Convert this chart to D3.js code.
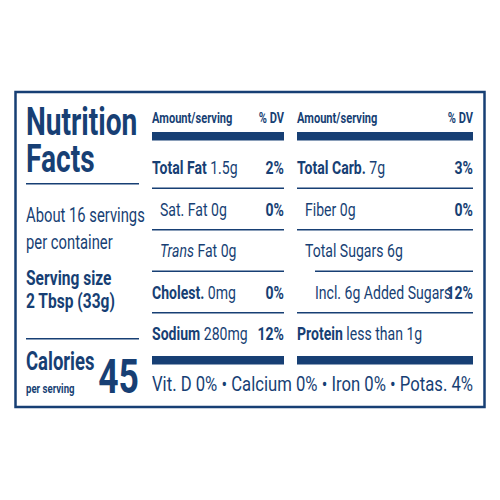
<!DOCTYPE html>
<html><head><meta charset="utf-8">
<script src="https://cdn.jsdelivr.net/npm/d3@7"></script>
<style>body{margin:0;background:#fff}text{font-family:Roboto,"Liberation Sans",sans-serif;fill:#173f74}</style>
</head><body><div id="label"></div>
<script>
const leftRows = [
  { bold: "Total Fat", rest: " 1.5g", dv: "2%", indent: 0 },
  { bold: "", rest: "Sat. Fat 0g", dv: "0%", indent: 8 },
  { bold: "", rest: " Fat 0g", ital: "Trans", dv: "", indent: 8 },
  { bold: "Cholest.", rest: " 0mg", dv: "0%", indent: 0 },
  { bold: "Sodium", rest: " 280mg", dv: "12%", indent: 0 },
];
const rightRows = [
  { bold: "Total Carb.", rest: " 7g", dv: "3%", indent: 0 },
  { bold: "", rest: "Fiber 0g", dv: "0%", indent: 8 },
  { bold: "", rest: "Total Sugars 6g", dv: "", indent: 8 },
  { bold: "", rest: "Incl. 6g Added Sugars", dv: "12%", indent: 18 },
  { bold: "Protein", rest: " less than 1g", dv: "", indent: 0 },
];
const lineIndentRight = [0, 0, 18, 0];
const vitamins = "Vit. D 0% • Calcium 0% • Iron 0% • Potas. 4%";
const navy = "#173f74";
const sx = 0.74; // condensed look

const svg = d3.select("#label").append("svg").attr("width", 500).attr("height", 500);

svg.append("rect").attr("x", 15.5).attr("y", 92).attr("width", 469).attr("height", 315)
  .attr("fill", "none").attr("stroke", navy).attr("stroke-width", 2.5);

const t = (x, y, s, size, weight, anchor) => svg.append("text")
  .attr("transform", `translate(${x},${y}) scale(${sx},1)`)
  .attr("font-size", size).attr("font-weight", weight || "normal")
  .attr("text-anchor", anchor || "start").text(s);

t(26, 135, "Nutrition", 38, "bold");
t(26, 172, "Facts", 38, "bold");
svg.append("rect").attr("x", 26).attr("y", 183).attr("width", 113).attr("height", 1.5).attr("fill", navy);
t(26, 222, "About 16 servings", 20);
t(26, 249, "per container", 20);
t(26, 285, "Serving size", 21, "bold");
t(26, 308, "2 Tbsp (33g)", 21, "bold");
svg.append("rect").attr("x", 26).attr("y", 338).attr("width", 113).attr("height", 1.5).attr("fill", navy);
t(26, 370, "Calories", 25, "bold");
t(26, 393, "per serving", 13, "bold");
t(139, 393, "45", 48, "bold", "end");

const y = d3.scalePoint().domain(d3.range(5)).range([174, 340]);

function column(rows, x0, x1, lineIndent) {
  t(x0, 123, "Amount/serving", 15, "bold");
  t(x1, 123, "% DV", 15, "bold", "end");
  svg.append("rect").attr("x", x0).attr("y", 132).attr("width", x1 - x0).attr("height", 8.5).attr("fill", navy);
  svg.append("rect").attr("x", x0).attr("y", 356).attr("width", x1 - x0).attr("height", 8.5).attr("fill", navy);
  rows.forEach((r, i) => {
    const tx = t(x0 + r.indent, y(i), "", 19);
    if (r.bold) tx.append("tspan").attr("font-weight", "bold").text(r.bold);
    if (r.ital) tx.append("tspan").attr("font-style", "italic").text(r.ital);
    tx.append("tspan").text(r.rest);
    if (r.dv) t(x1, y(i), r.dv, 19, "bold", "end");
    if (i < rows.length - 1) {
      const li = lineIndent[i] || 0;
      svg.append("rect").attr("x", x0 + li).attr("y", y(i) + 13.5).attr("width", x1 - x0 - li)
        .attr("height", 1.5).attr("fill", navy);
    }
  });
}
column(leftRows, 152, 284, [0, 0, 0, 0]);
column(rightRows, 297, 473, lineIndentRight);

svg.append("text").attr("x", 152).attr("y", 391).attr("font-size", 20)
  .attr("textLength", 321).attr("lengthAdjust", "spacingAndGlyphs").text(vitamins);
</script></body></html>
